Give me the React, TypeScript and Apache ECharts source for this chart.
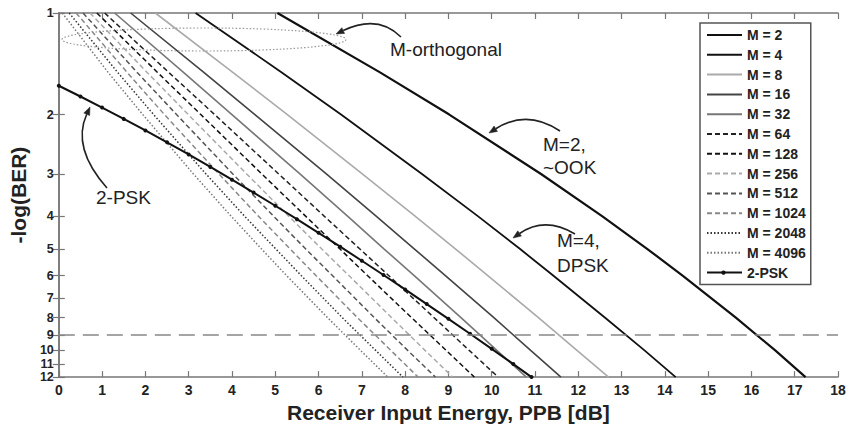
import React, { useEffect, useRef } from "react";
import * as echarts from "echarts";

// -log(BER) sample levels shared by the M-orthogonal curves
const ORTHO_Y = [1, 1.5, 2, 3, 4, 5, 6, 8, 10, 12];
// Receiver input energy (dB PPB) at which each curve reaches the levels above
const M2_X = [5.05, 7.42, 9.02, 11.14, 12.55, 13.59, 14.41, 15.64, 16.55, 17.25];
const M4_X = [3.16, 5.15, 6.52, 8.39, 9.68, 10.65, 11.42, 12.62, 13.53, 14.25];
const M8_X = [2.23, 4.02, 5.28, 7.01, 8.23, 9.16, 9.91, 11.08, 11.97, 12.7];
const M16_X = [1.66, 3.35, 4.53, 6.18, 7.33, 8.21, 8.93, 10.05, 10.9, 11.6];
const M32_X = [1.29, 2.88, 4.0, 5.57, 6.67, 7.51, 8.21, 9.29, 10.12, 10.8];
const M64_X = [1.06, 2.54, 3.6, 5.08, 6.13, 6.95, 7.62, 8.67, 9.48, 10.15];
const M128_X = [0.88, 2.28, 3.28, 4.69, 5.7, 6.49, 7.13, 8.15, 8.95, 9.6];
const M256_X = [0.72, 2.04, 2.99, 4.34, 5.31, 6.07, 6.7, 7.69, 8.46, 9.1];
const M512_X = [0.56, 1.81, 2.72, 4.02, 4.96, 5.7, 6.32, 7.29, 8.06, 8.7];
const M1024_X = [0.4, 1.58, 2.44, 3.7, 4.61, 5.34, 5.94, 6.9, 7.67, 8.3];
const M2048_X = [0.24, 1.36, 2.19, 3.4, 4.29, 5.01, 5.6, 6.55, 7.32, 7.95];
const M4096_X = [0.08, 1.14, 1.94, 3.11, 3.98, 4.68, 5.26, 6.21, 6.97, 7.6];

// 2-PSK curve
const PSK_X = [0, 0.5, 1, 1.5, 2, 2.5, 3, 3.5, 4, 4.5, 5, 5.5, 6, 6.5, 7, 7.5, 8, 8.5, 9, 9.5, 10, 10.5, 10.92];
const PSK_Y = [1.643, 1.768, 1.907, 2.06, 2.229, 2.417, 2.626, 2.86, 3.119, 3.406, 3.727, 4.085, 4.483, 4.927, 5.423, 5.977, 6.596, 7.289, 8.063, 8.928, 9.896, 10.98, 12.0];

const Y_TICKS = [1, 2, 3, 4, 5, 6, 7, 8, 9, 10, 11, 12];
const BER_LIMIT = 9;

const ORTHO_NAMES = ["M = 2", "M = 4", "M = 8", "M = 16", "M = 32", "M = 64", "M = 128", "M = 256", "M = 512", "M = 1024", "M = 2048", "M = 4096"];
const ORTHO_X = [M2_X, M4_X, M8_X, M16_X, M32_X, M64_X, M128_X, M256_X, M512_X, M1024_X, M2048_X, M4096_X];
const PSK_NAME = "2-PSK";

const DASH = [5, 3];
const DOT = [1.5, 2];
const ORTHO_STYLE = [
  { color: "#111", width: 2.2, type: "solid" as any },
  { color: "#111", width: 1.8, type: "solid" as any },
  { color: "#aaa", width: 1.6, type: "solid" as any },
  { color: "#444", width: 1.6, type: "solid" as any },
  { color: "#777", width: 1.6, type: "solid" as any },
  { color: "#222", width: 1.5, type: DASH },
  { color: "#111", width: 1.5, type: DASH },
  { color: "#aaa", width: 1.5, type: DASH },
  { color: "#555", width: 1.5, type: DASH },
  { color: "#888", width: 1.5, type: DASH },
  { color: "#333", width: 1.5, type: DOT },
  { color: "#777", width: 1.5, type: DOT },
];

const FONT = 'Arial, "Liberation Sans", Helvetica, sans-serif';

function arrow(sx: number, sy: number, cx: number, cy: number, tx: number, ty: number) {
  const dx = tx - cx;
  const dy = ty - cy;
  const len = Math.hypot(dx, dy);
  const ux = dx / len;
  const uy = dy / len;
  const L = 8;
  const hw = 3.2;
  const bx = tx - ux * L;
  const by = ty - uy * L;
  const px = -uy;
  const py = ux;
  return [
    {
      type: "bezierCurve",
      shape: { x1: sx, y1: sy, cpx1: cx, cpy1: cy, x2: bx, y2: by },
      style: { stroke: "#222", lineWidth: 1.6, fill: null },
      silent: true,
    },
    {
      type: "polygon",
      shape: { points: [[tx, ty], [bx + px * hw, by + py * hw], [bx - px * hw, by - py * hw]] },
      style: { fill: "#222", stroke: "#222", lineWidth: 0.5 },
      silent: true,
    },
  ];
}

function annText(x: number, y: number, text: string) {
  return {
    type: "text",
    x,
    y,
    style: { text, fontSize: 19, fontFamily: FONT, fill: "#222", textVerticalAlign: "middle", verticalAlign: "middle" },
    silent: true,
  };
}

export default function App() {
  const ref = useRef<HTMLDivElement>(null);

  useEffect(() => {
    if (!ref.current) return;
    const chart = echarts.init(ref.current, null, { renderer: "svg" });

    const axisColor = "#777";
    const labelStyle = { fontFamily: FONT, fontWeight: "bold" as const, fontSize: 14, color: "#222" };
    const yLabelStyle = {
      ...labelStyle,
      fontSize: 12.5,
      lineHeight: 10,
      margin: 5,
      showMinLabel: true,
      showMaxLabel: true,
      hideOverlap: false,
      formatter: (v: number) => String(Math.round(v)),
    };
    const mainLabels = Y_TICKS.slice(0, -1);
    const lastLabel = Y_TICKS.slice(-1);

    const orthoSeries = ORTHO_NAMES.map((name, k) => ({
      type: "line",
      name,
      data: ORTHO_X[k].map((x, i) => [x, ORTHO_Y[i]]),
      symbol: "none",
      showSymbol: false,
      lineStyle: { color: ORTHO_STYLE[k].color, width: ORTHO_STYLE[k].width, type: ORTHO_STYLE[k].type },
      itemStyle: { color: ORTHO_STYLE[k].color },
      clip: true,
      silent: true,
      z: 3,
    }));

    const pskSeries = {
      type: "line",
      name: PSK_NAME,
      data: PSK_X.map((x, i) => [x, PSK_Y[i]]),
      symbol: "circle",
      symbolSize: 4,
      showSymbol: true,
      lineStyle: { color: "#111", width: 2 },
      itemStyle: { color: "#111" },
      clip: true,
      silent: true,
      z: 4,
      markLine: {
        silent: true,
        symbol: ["none", "none"],
        label: { show: false },
        lineStyle: { color: "#888", width: 1.5, type: [16, 8] },
        data: [{ yAxis: BER_LIMIT }],
      },
    };

    const legendData = [
      ...ORTHO_NAMES.map((name) => ({ name, itemStyle: { opacity: 0 } })),
      { name: PSK_NAME, itemStyle: { opacity: 0 } },
    ];

    const option: any = {
      animation: false,
      backgroundColor: "#fff",
      grid: { left: 56, right: 11, top: 13, bottom: 50, containLabel: false },
      xAxis: [
        {
          type: "value",
          min: 0,
          max: 18,
          interval: 1,
          name: "Receiver Input Energy, PPB [dB]",
          nameLocation: "middle",
          nameGap: 22,
          nameTextStyle: { fontFamily: FONT, fontWeight: "bold", fontSize: 21, color: "#222", verticalAlign: "top" },
          axisLine: { show: true, lineStyle: { color: axisColor, width: 1.5 } },
          axisTick: { show: true, inside: true, length: 6, lineStyle: { color: axisColor, width: 1.2 } },
          axisLabel: { ...labelStyle, margin: 6 },
          splitLine: { show: false },
        },
        {
          type: "value",
          position: "top",
          min: 0,
          max: 18,
          interval: 1,
          axisLine: { show: true, lineStyle: { color: axisColor, width: 1.5 } },
          axisTick: { show: true, inside: true, length: 6, lineStyle: { color: axisColor, width: 1.2 } },
          axisLabel: { show: false },
          splitLine: { show: false },
        },
      ],
      yAxis: [
        {
          type: "log",
          logBase: 10,
          min: 1,
          max: 12,
          inverse: true,
          name: "-log(BER)",
          nameLocation: "middle",
          nameRotate: 90,
          nameGap: 29,
          nameTextStyle: { fontFamily: FONT, fontWeight: "bold", fontSize: 21, color: "#222" },
          axisLine: { show: true, lineStyle: { color: axisColor, width: 1.5 } },
          axisTick: { show: true, inside: true, length: 6, customValues: Y_TICKS, lineStyle: { color: axisColor, width: 1.2 } },
          axisLabel: { ...yLabelStyle, customValues: mainLabels },
          splitLine: { show: false },
          minorTick: { show: false },
        },
        {
          type: "log",
          logBase: 10,
          min: 1,
          max: 12,
          inverse: true,
          position: "right",
          axisLine: { show: true, lineStyle: { color: axisColor, width: 1.5 } },
          axisTick: { show: true, inside: true, length: 6, customValues: Y_TICKS, lineStyle: { color: axisColor, width: 1.2 } },
          axisLabel: { show: false, customValues: Y_TICKS },
          splitLine: { show: false },
        },
        {
          type: "log",
          logBase: 10,
          min: 1,
          max: 12,
          inverse: true,
          position: "left",
          offset: 0,
          axisLine: { show: false },
          axisTick: { show: false },
          axisLabel: { ...yLabelStyle, customValues: lastLabel, padding: [6, 0, 0, 0] },
          splitLine: { show: false },
        },
      ],
      legend: {
        show: true,
        orient: "vertical",
        left: 700,
        top: 23,
        itemWidth: 35,
        itemHeight: 14,
        itemGap: 5.8,
        padding: [5, 5, 5, 6],
        borderColor: "#555",
        borderWidth: 1.5,
        backgroundColor: "#fff",
        textStyle: { fontFamily: FONT, fontWeight: "bold", fontSize: 14, lineHeight: 14, color: "#222" },
        data: legendData,
        selectedMode: false,
        z: 10,
      },
      graphic: [
        {
          type: "ellipse",
          shape: { cx: 204, cy: 39.5, rx: 142, ry: 11.5 },
          style: { fill: null, stroke: "#999", lineWidth: 1.2, lineDash: [1.5, 2] },
          silent: true,
          z: 5,
        },
        {
          type: "circle",
          shape: { cx: 723.5, cy: 272.6, r: 2.2 },
          style: { fill: "#111" },
          silent: true,
          z: 200,
        },
        ...arrow(401, 37, 378, 14, 336, 34),
        ...arrow(560, 131, 527, 109, 489, 133),
        ...arrow(575, 234, 545, 216, 513, 238),
        ...arrow(107, 188, 71.5, 148, 90, 107),
        annText(390, 49, "M-orthogonal"),
        annText(543, 144, "M=2,"),
        annText(543, 167, "~OOK"),
        annText(557, 240, "M=4,"),
        annText(557, 265, "DPSK"),
        annText(96, 197, "2-PSK"),
      ],
      series: [...orthoSeries, pskSeries],
    };

    chart.setOption(option);
    return () => chart.dispose();
  }, []);

  return (
    <div
      ref={ref}
      style={{ position: "fixed", left: 0, top: 0, width: 849, height: 428, background: "#fff" }}
    />
  );
}
